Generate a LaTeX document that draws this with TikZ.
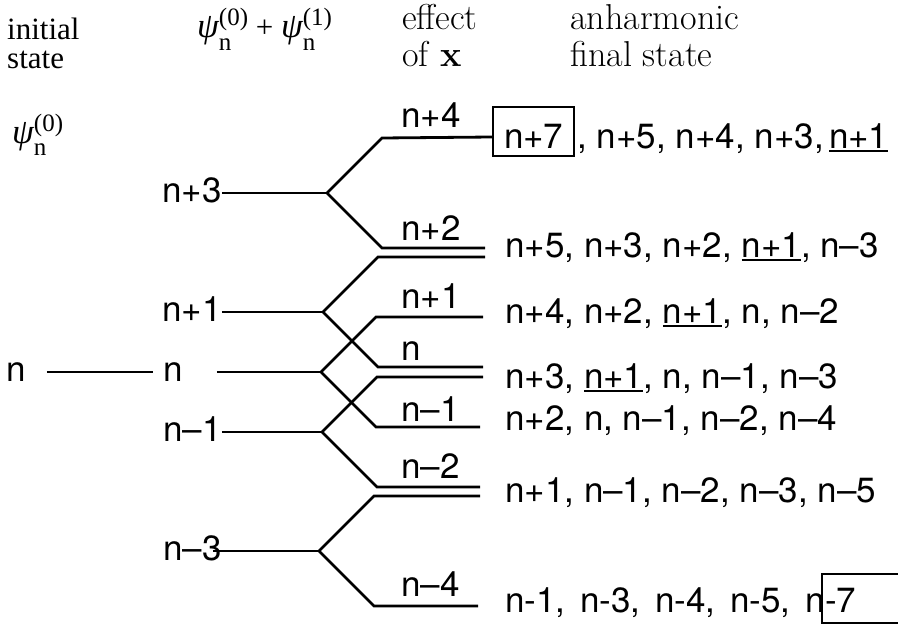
\documentclass[tikz,border=0pt]{standalone}
\usepackage{fontspec}
\setsansfont{TeX Gyre Heros}
\newfontfamily\timesfam{Liberation Serif}
\usetikzlibrary{calc}

% underlined state number
\newcommand\ulbox[1]{\setbox0=\hbox{#1}\rlap{\rule[-3.5pt]{\wd0}{1.6pt}}\box0}
% psi with subscript n and an order superscript
\newcommand\psiterm[1]{{\fontsize{35}{35}\selectfont\itshape ψ}\rlap{\raisebox{-13pt}{\fontsize{25}{25}\selectfont n}}\raisebox{12pt}{\fontsize{25}{25}\selectfont(#1)}}
\newcommand\wsep{,\hspace{0.42em}}

\begin{document}
\begin{tikzpicture}[x=1pt,y=-1pt,
  wire/.style={line width=2.8pt},
  sans/.style={font=\sffamily\fontsize{35}{42}\selectfont, inner sep=0pt, anchor=base west},
  lvl/.style={sans, anchor=west, text height=18.3pt, text depth=0pt},
  tms/.style={font=\timesfam\fontsize{31}{31}\selectfont, inner sep=0pt, anchor=base west},
  lmr/.style={font=\fontsize{36}{40}\selectfont, inner sep=0pt, anchor=base west}]
\useasboundingbox (0,0) rectangle (898,626);

% column headings
\node[tms] (hinit) at (7,40) {initial};
\node[tms] (hstate) at (7,69) {state};
\node[tms] (hpsi) at (197,38) {\psiterm{0} + \psiterm{1}};
\node[lmr] (heff) at (402,30) {effect};
\node[lmr] (hofx) at (402,67) {of \textbf{x}};
\node[lmr] (hanh) at (570,30) {anharmonic};
\node[lmr] (hfin) at (570,67) {final state};
\node[tms] (hpsi0) at (12,143) {\psiterm{0}};

% initial state and first-order levels
\node[lvl] (L0a) at (6,372) {n};
\node[lvl] (L0)  at (163,372) {n};
\node[lvl] (L3)  at (162,193) {n+3};
\node[lvl] (L1)  at (162,312) {n+1};
\node[lvl] (Lm1) at (163,432) {n–1};
\node[lvl] (Lm3) at (163,551) {n–3};

% branch points
\coordinate (J3)  at (327,193);
\coordinate (J1)  at (323,312);
\coordinate (J0)  at (321,372);
\coordinate (Jm1) at (322,432);
\coordinate (Jm3) at (319,551);

\draw[wire] ([xshift=21pt]L0a.east) -- ([xshift=-10pt]L0.west);
\draw[wire] (L3.east) -- (J3);
\draw[wire] (L1.east) -- (J1);
\draw[wire] ([xshift=34pt]L0.east) -- (J0);
\draw[wire] (Lm1.east) -- (Jm1);
\draw[wire] ([xshift=-9pt]Lm3.east) -- (Jm3);

% boxed n+7 at the end of the top line
\node[sans, draw, line width=2pt, inner xsep=11pt, inner ysep=6pt,
      text height=35pt, text depth=2pt] (n7) at (492,148) {n+7};

% effect of x: each level splits one up and one down
\draw[wire] (n7.west |- 0,137) -- ($(J3)+(55,-55)$) -- (J3) -- ($(J3)+(55,55)$) -- (485,248);
\draw[wire] (485,257) -- ($(J1)+(55,-55)$) -- (J1) -- ($(J1)+(55,55)$) -- (483,367);
\draw[wire] (483,317) -- ($(J0)+(55,-55)$) -- (J0) -- ($(J0)+(55,55)$) -- (480,427);
\draw[wire] (483,377) -- ($(Jm1)+(55,-55)$) -- (Jm1) -- ($(Jm1)+(55,55)$) -- (480,487);
\draw[wire] (480,496) -- ($(Jm3)+(55,-55)$) -- (Jm3) -- ($(Jm3)+(55,55)$) -- (478,606);

% second-order level labels
\node[sans] (a4)  at (401,128) {n+4};
\node[sans] (a2)  at (401,240) {n+2};
\node[sans] (a1)  at (401,308) {n+1};
\node[sans] (a0)  at (401,360) {n};
\node[sans] (am1) at (401,421) {n–1};
\node[sans] (am2) at (401,478) {n–2};
\node[sans] (am4) at (401,596) {n–4};

% final states
\node[sans] (r1) at ([xshift=2pt]n7.base east) {, n+5, n+4, n+3,\hspace{0.15em}\ulbox{n+1}};
\node[sans] (r2) at (505,257) {n+5, n+3, n+2, \ulbox{n+1}, n–3};
\node[sans] (r3) at (505,323) {n+4, n+2, \ulbox{n+1}, n, n–2};
\node[sans] (r4) at (505,388) {n+3, \ulbox{n+1}, n, n–1, n–3};
\node[sans] (r5) at (505,430) {n+2, n, n–1, n–2, n–4};
\node[sans] (r6) at (505,502) {n+1, n–1, n–2, n–3, n–5};
\node[sans] (r7) at (505,612) {n-1\wsep n-3\wsep n-4\wsep n-5\wsep n};
\node[sans] (r7b) at (r7.base east) {-7};

% open box round n-7, running off the right edge
\coordinate (redge) at (898,0);
\coordinate (b7t) at ($(r7.base east)+(-3,-38)$);
\coordinate (b7b) at ($(r7.base east)+(-3,11)$);
\draw[line width=2pt] (redge |- b7t) -- (b7t) -- (b7b) -- (redge |- b7b);
\end{tikzpicture}
\end{document}
